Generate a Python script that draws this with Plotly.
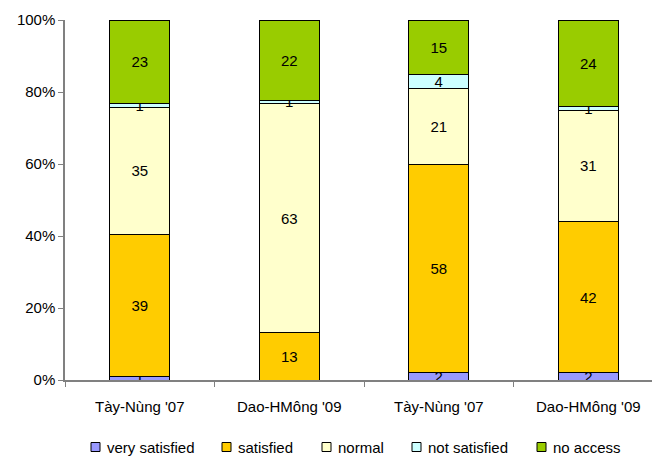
import plotly.graph_objects as go

groups = ["Tày-Nùng '07", "Dao-HMông '09", "Tày-Nùng '07", "Dao-HMông '09"]
series_names = ["very satisfied", "satisfied", "normal", "not satisfied", "no access"]
very_satisfied = [1, 0, 2, 2]
satisfied = [39, 13, 58, 42]
normal = [35, 63, 21, 31]
not_satisfied = [1, 1, 4, 1]
no_access = [23, 22, 15, 24]
colors = ["#9999FF", "#FFCC00", "#FFFFCC", "#CCFFFF", "#99CC00"]
y_ticks = [0, 20, 40, 60, 80, 100]

FONT = "Liberation Sans, Arial, sans-serif"
W, H = 652, 456
ML, MR, MT, MB = 65, 0, 20, 76

positions = list(range(len(groups)))
series_values = [very_satisfied, satisfied, normal, not_satisfied, no_access]

fig = go.Figure()
for name, vals, col in zip(series_names, series_values, colors):
    fig.add_trace(go.Bar(
        x=positions, y=vals, name=name,
        marker=dict(color=col, line=dict(color="#000000", width=1)),
        text=[str(v) if v else "" for v in vals],
        textposition="inside", insidetextanchor="middle",
        textangle=0, constraintext="none",
        insidetextfont=dict(color="#000000", size=15, family=FONT),
        hoverinfo="skip", showlegend=False,
    ))

# legend row drawn as small boxed swatches with labels beneath the axis
plot_w = W - ML - MR
plot_h = H - MT - MB
def px_to_paper_x(px):
    return (px - ML) / plot_w
def px_to_paper_y(py):
    return (H - MB - py) / plot_h

legend_box_left = [91, 222, 322, 412, 537]
legend_row_y = 447
box = 9
for name, col, bx in zip(series_names, colors, legend_box_left):
    fig.add_shape(
        type="rect", xref="paper", yref="paper",
        x0=px_to_paper_x(bx), x1=px_to_paper_x(bx + box),
        y0=px_to_paper_y(legend_row_y + box / 2), y1=px_to_paper_y(legend_row_y - box / 2),
        fillcolor=col, line=dict(color="#000000", width=1),
    )
    fig.add_annotation(
        x=px_to_paper_x(bx + box + 5), y=px_to_paper_y(legend_row_y),
        xref="paper", yref="paper", xanchor="left", yanchor="middle",
        text=name, showarrow=False,
        font=dict(size=15, family=FONT, color="#000000"),
    )

fig.update_layout(
    barmode="stack", barnorm="percent", bargap=0.6,
    width=W, height=H,
    margin=dict(l=ML, r=MR, t=MT, b=MB),
    paper_bgcolor="white", plot_bgcolor="white",
    font=dict(family=FONT, size=15, color="#000000"),
    showlegend=False,
)
fig.update_xaxes(
    range=[-0.5, 3.426], tickvals=positions, ticktext=groups,
    ticks="", showline=True, linecolor="#808080", linewidth=1.5,
    showgrid=False, zeroline=False, ticklabelstandoff=12,
    tickfont=dict(size=15),
    minor=dict(tickvals=[-0.5, 0.5, 1.5, 2.5], ticks="outside", ticklen=5,
               tickcolor="#808080", showgrid=False),
)
fig.update_yaxes(
    range=[0, 100], tickvals=y_ticks, ticktext=[f"{t}%" for t in y_ticks],
    ticks="outside", ticklen=5, tickcolor="#808080",
    showline=True, linecolor="#808080", linewidth=1.5,
    showgrid=False, zeroline=False, tickfont=dict(size=15),
)

fig.write_html("out.html")
